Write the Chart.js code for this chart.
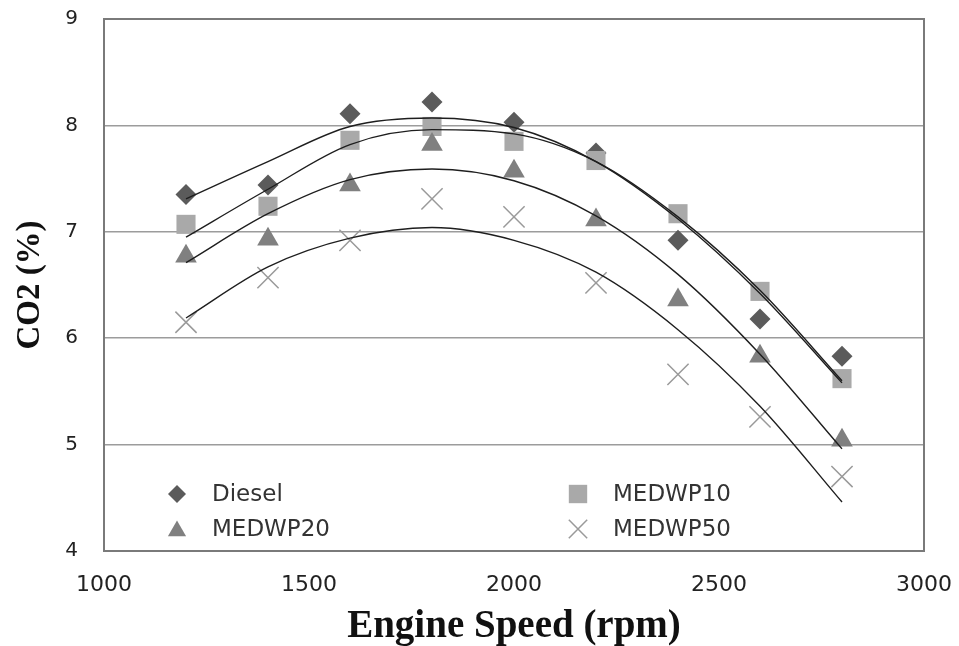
<!DOCTYPE html>
<html>
<head>
<meta charset="utf-8">
<script src="https://cdn.jsdelivr.net/npm/chart.js@4/dist/chart.umd.min.js"></script>
<style>
  html, body { margin: 0; padding: 0; background: #ffffff; }
  #wrap { width: 959px; height: 646px; }
</style>
</head>
<body>
<div id="wrap"><canvas id="c" width="959" height="646"></canvas></div>
<script>
// ---- data ----
const rpm = [1200, 1400, 1600, 1800, 2000, 2200, 2400, 2600, 2800];
const seriesNames = ['Diesel', 'MEDWP10', 'MEDWP20', 'MEDWP50'];
const diesel  = [7.35, 7.44, 8.11, 8.22, 8.03, 7.74, 6.92, 6.18, 5.83];
const medwp10 = [7.07, 7.24, 7.86, 7.99, 7.85, 7.67, 7.17, 6.44, 5.62];
const medwp20 = [6.77, 6.93, 7.44, 7.82, 7.57, 7.11, 6.36, 5.83, 5.04];
const medwp50 = [6.15, 6.57, 6.92, 7.31, 7.14, 6.52, 5.66, 5.26, 4.70];
// trend curves (as drawn in the reference)
const trendDiesel  = [7.31, 7.66, 7.99, 8.07, 7.98, 7.66, 7.12, 6.42, 5.58];
const trendMedwp10 = [6.95, 7.40, 7.82, 7.96, 7.92, 7.66, 7.14, 6.45, 5.60];
const trendMedwp20 = [6.71, 7.17, 7.49, 7.59, 7.48, 7.15, 6.60, 5.85, 4.96];
const trendMedwp50 = [6.19, 6.67, 6.94, 7.04, 6.92, 6.62, 6.08, 5.36, 4.46];
const xTicks = [1000, 1500, 2000, 2500, 3000];
const yTicks = [4, 5, 6, 7, 8, 9];
const xTitle = 'Engine Speed (rpm)';
const yTitle = 'CO2 (%)';

const pts = arr => rpm.map((x, i) => ({ x: x, y: arr[i] }));

const markerStyles = [
  { pointStyle: 'rectRot',  radius: 10.5, fill: '#5b5b5b', stroke: '#5b5b5b', bw: 0,   lr: 9 },
  { pointStyle: 'rect',     radius: 13.5, fill: '#a9a9a9', stroke: '#a9a9a9', bw: 0,   lr: 13 },
  { pointStyle: 'triangle', radius: 12.5, fill: '#808080', stroke: '#808080', bw: 0,   lr: 10.5 },
  { pointStyle: 'crossRot', radius: 15,   fill: 'rgba(0,0,0,0)', stroke: '#9a9a9a', bw: 1.5, lr: 13 }
];
const markerData = [diesel, medwp10, medwp20, medwp50];
const trendData = [trendDiesel, trendMedwp10, trendMedwp20, trendMedwp50];

const datasets = [];
markerData.forEach((arr, i) => {
  const s = markerStyles[i];
  datasets.push({
    label: seriesNames[i],
    data: pts(arr),
    showLine: false,
    pointStyle: s.pointStyle,
    pointRadius: s.radius,
    pointHoverRadius: s.radius,
    pointBackgroundColor: s.fill,
    pointBorderColor: s.stroke,
    pointBorderWidth: s.bw,
    order: 4 - i
  });
});
trendData.forEach((arr, i) => {
  datasets.push({
    label: seriesNames[i] + ' trend',
    data: pts(arr),
    showLine: true,
    borderColor: '#1e1e1e',
    borderWidth: 1.4,
    pointRadius: 0,
    pointHoverRadius: 0,
    fill: false,
    cubicInterpolationMode: 'monotone',
    order: 0
  });
});

function drawMarker(ctx, style, r, x, y, fill, stroke, bw) {
  ctx.save();
  ctx.fillStyle = fill;
  ctx.strokeStyle = stroke;
  ctx.lineWidth = bw;
  ctx.beginPath();
  if (style === 'rectRot') {
    ctx.moveTo(x, y - r); ctx.lineTo(x + r, y); ctx.lineTo(x, y + r); ctx.lineTo(x - r, y); ctx.closePath();
    ctx.fill();
  } else if (style === 'rect') {
    const h = r * Math.SQRT1_2;
    ctx.rect(x - h, y - h, 2 * h, 2 * h);
    ctx.fill();
  } else if (style === 'triangle') {
    const w = r * Math.sqrt(3) / 2;
    ctx.moveTo(x, y - r); ctx.lineTo(x + w, y + r / 2); ctx.lineTo(x - w, y + r / 2); ctx.closePath();
    ctx.fill();
  } else if (style === 'crossRot') {
    const h = r * Math.SQRT1_2;
    ctx.moveTo(x - h, y - h); ctx.lineTo(x + h, y + h);
    ctx.moveTo(x + h, y - h); ctx.lineTo(x - h, y + h);
    ctx.stroke();
  }
  ctx.restore();
}

const framePlugin = {
  id: 'frame',
  afterDraw(chart) {
    const { ctx, chartArea: a } = chart;
    ctx.save();
    ctx.strokeStyle = '#7a7a7a';
    ctx.lineWidth = 2;
    ctx.strokeRect(a.left, a.top, a.right - a.left, a.bottom - a.top);
    ctx.restore();
  }
};

const legendPlugin = {
  id: 'insideLegend',
  afterDraw(chart) {
    const { ctx, chartArea: a } = chart;
    const colX = [a.left + 73, a.left + 474];
    const rowY = [a.bottom - 57, a.bottom - 22];
    ctx.save();
    ctx.font = '23px "DejaVu Sans", Verdana, sans-serif';
    ctx.textBaseline = 'middle';
    ctx.textAlign = 'left';
    seriesNames.forEach((name, i) => {
      const col = i % 2, row = Math.floor(i / 2);
      const s = markerStyles[i];
      const mx = colX[col], my = rowY[row];
      drawMarker(ctx, s.pointStyle, s.lr, mx, my + (s.pointStyle === 'triangle' ? 2 : 0), s.fill, s.stroke, s.bw);
      ctx.fillStyle = '#333333';
      ctx.fillText(name, mx + 35, my + 1);
    });
    ctx.restore();
  }
};

new Chart(document.getElementById('c'), {
  type: 'scatter',
  data: { datasets: datasets },
  options: {
    responsive: false,
    animation: false,
    devicePixelRatio: 1,
    layout: { padding: { left: 0, right: 35, top: 19, bottom: 0 } },
    plugins: {
      legend: { display: false },
      tooltip: { enabled: false },
      title: { display: false }
    },
    scales: {
      x: {
        type: 'linear',
        min: xTicks[0],
        max: xTicks[xTicks.length - 1],
        afterBuildTicks: s => { s.ticks = xTicks.map(v => ({ value: v })); },
        afterFit: s => { s.height = 95; s.paddingLeft = 0; s.paddingRight = 0; },
        grid: { display: false, drawTicks: false },
        border: { display: false },
        ticks: {
          padding: 21,
          color: '#222222',
          font: { family: '"DejaVu Sans", Verdana, sans-serif', size: 22 },
          callback: v => String(v)
        },
        title: {
          display: true,
          text: xTitle,
          color: '#111111',
          padding: { top: 0, bottom: 0 },
          font: { family: '"Liberation Serif", "Times New Roman", serif', size: 39, weight: 'bold', lineHeight: 1 }
        }
      },
      y: {
        type: 'linear',
        min: yTicks[0],
        max: yTicks[yTicks.length - 1],
        afterBuildTicks: s => { s.ticks = yTicks.map(v => ({ value: v })); },
        afterFit: s => { s.width = 104; s.paddingTop = 0; s.paddingBottom = 0; },
        grid: { color: '#9c9c9c', lineWidth: 1.5, drawTicks: false },
        border: { display: false },
        ticks: {
          padding: 26,
          color: '#222222',
          font: { family: '"DejaVu Sans", Verdana, sans-serif', size: 20 },
          callback: v => String(v)
        },
        title: {
          display: true,
          text: yTitle,
          color: '#111111',
          padding: { top: 14, bottom: 0 },
          font: { family: '"Liberation Serif", "Times New Roman", serif', size: 33, weight: 'bold', lineHeight: 1 }
        }
      }
    }
  },
  plugins: [framePlugin, legendPlugin]
});
</script>
</body>
</html>
